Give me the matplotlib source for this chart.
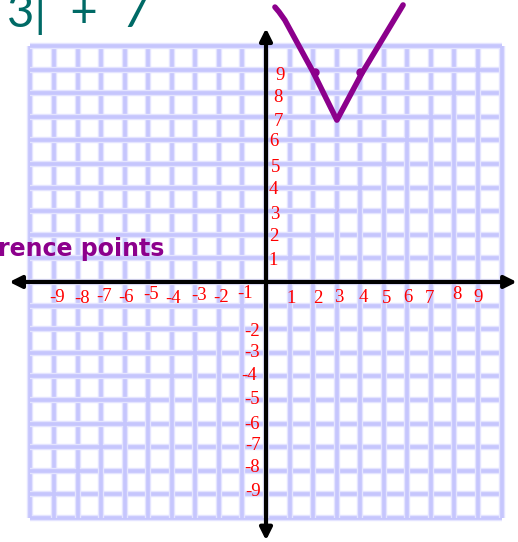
import matplotlib.pyplot as plt
import numpy as np

# hand-drawn V of y = |x - 3| + 7, traced stroke points
curve_x = [0.38, 0.55, 0.8, 2.0, 3.01, 4.08, 5.82]
curve_y = [11.65, 11.45, 11.1, 8.9, 6.86, 8.86, 11.74]

# reference points marked on the stroke
ref_x = [2.09, 4.01]
ref_y = [8.88, 8.88]

# axis numbers, written by hand so they sit a little off the grid
xneg_labels = ["-9", "-8", "-7", "-6", "-5", "-4", "-3", "-2", "-1"]
xneg_x = [-8.87, -7.81, -6.88, -5.94, -4.88, -3.95, -2.84, -1.91, -0.89]
xneg_y = [-0.64, -0.72, -0.6, -0.64, -0.51, -0.68, -0.59, -0.64, -0.47]

xpos_labels = ["1", "2", "3", "4", "5", "6", "7", "8", "9"]
xpos_x = [1.06, 2.21, 3.1, 4.12, 5.1, 6.03, 6.96, 8.11, 9.0]
xpos_y = [-0.68, -0.68, -0.64, -0.64, -0.68, -0.64, -0.68, -0.55, -0.64]

ypos_labels = ["9", "8", "7", "6", "5", "4", "3", "2", "1"]
ypos_x = [0.59, 0.51, 0.51, 0.34, 0.42, 0.3, 0.38, 0.34, 0.3]
ypos_y = [8.77, 7.8, 6.78, 5.97, 4.87, 3.9, 2.88, 1.91, 0.93]

yneg_labels = ["-2", "-3", "-4", "-5", "-6", "-7", "-8", "-9"]
yneg_x = [-0.6, -0.6, -0.72, -0.6, -0.6, -0.55, -0.6, -0.55]
yneg_y = [-2.12, -3.01, -3.98, -5.0, -6.02, -6.95, -7.88, -8.86]

fig = plt.figure(figsize=(5.18, 5.42), dpi=100)
ax = fig.add_axes([0, 0, 1, 1])
ax.set_xlim(-11.295, 10.70)
ax.set_ylim(-11.02, 11.95)
ax.axis("off")

# graph paper
for k in range(-10, 11):
    for lw, col in [(4.6, "#e4e4ff"), (2.6, "#c6c6fd")]:
        ax.plot([k, k], [-10, 10], color=col, lw=lw, zorder=1, solid_capstyle="butt")
        ax.plot([-10, 10], [k, k], color=col, lw=lw, zorder=1, solid_capstyle="butt")

# axes with arrowheads at both ends
arrow = dict(arrowstyle="<|-|>", lw=3, color="black", mutation_scale=18,
             shrinkA=0, shrinkB=0)
ax.annotate("", xy=(-10.9, 0), xytext=(10.65, 0), arrowprops=arrow, zorder=3)
ax.annotate("", xy=(0, 10.75), xytext=(0, -10.95), arrowprops=arrow, zorder=3)

num_style = dict(color="red", fontsize=13.5, family="Liberation Serif",
                 ha="center", va="center", zorder=4)
for groups in [(xneg_labels, xneg_x, xneg_y), (xpos_labels, xpos_x, xpos_y),
               (ypos_labels, ypos_x, ypos_y), (yneg_labels, yneg_x, yneg_y)]:
    for s, x, y in zip(*groups):
        ax.text(x, y, s, **num_style)

purple = "#8c008c"
ax.plot(curve_x, curve_y, color=purple, lw=4, solid_capstyle="round",
        solid_joinstyle="round", zorder=5, clip_on=False)
ax.plot(ref_x, ref_y, "o", color=purple, ms=5, zorder=5)

fig.text(7 / 518, 1 - 27 / 542, "3|  +  7", color="#006a66", fontsize=34,
         family="Lato", ha="left", va="baseline")
fig.text(-2 / 518, 1 - 256 / 542, "rence points", color=purple, fontsize=17,
         family="DejaVu Sans", fontweight="bold", ha="left", va="baseline")

fig.savefig("out.png", dpi=100)
